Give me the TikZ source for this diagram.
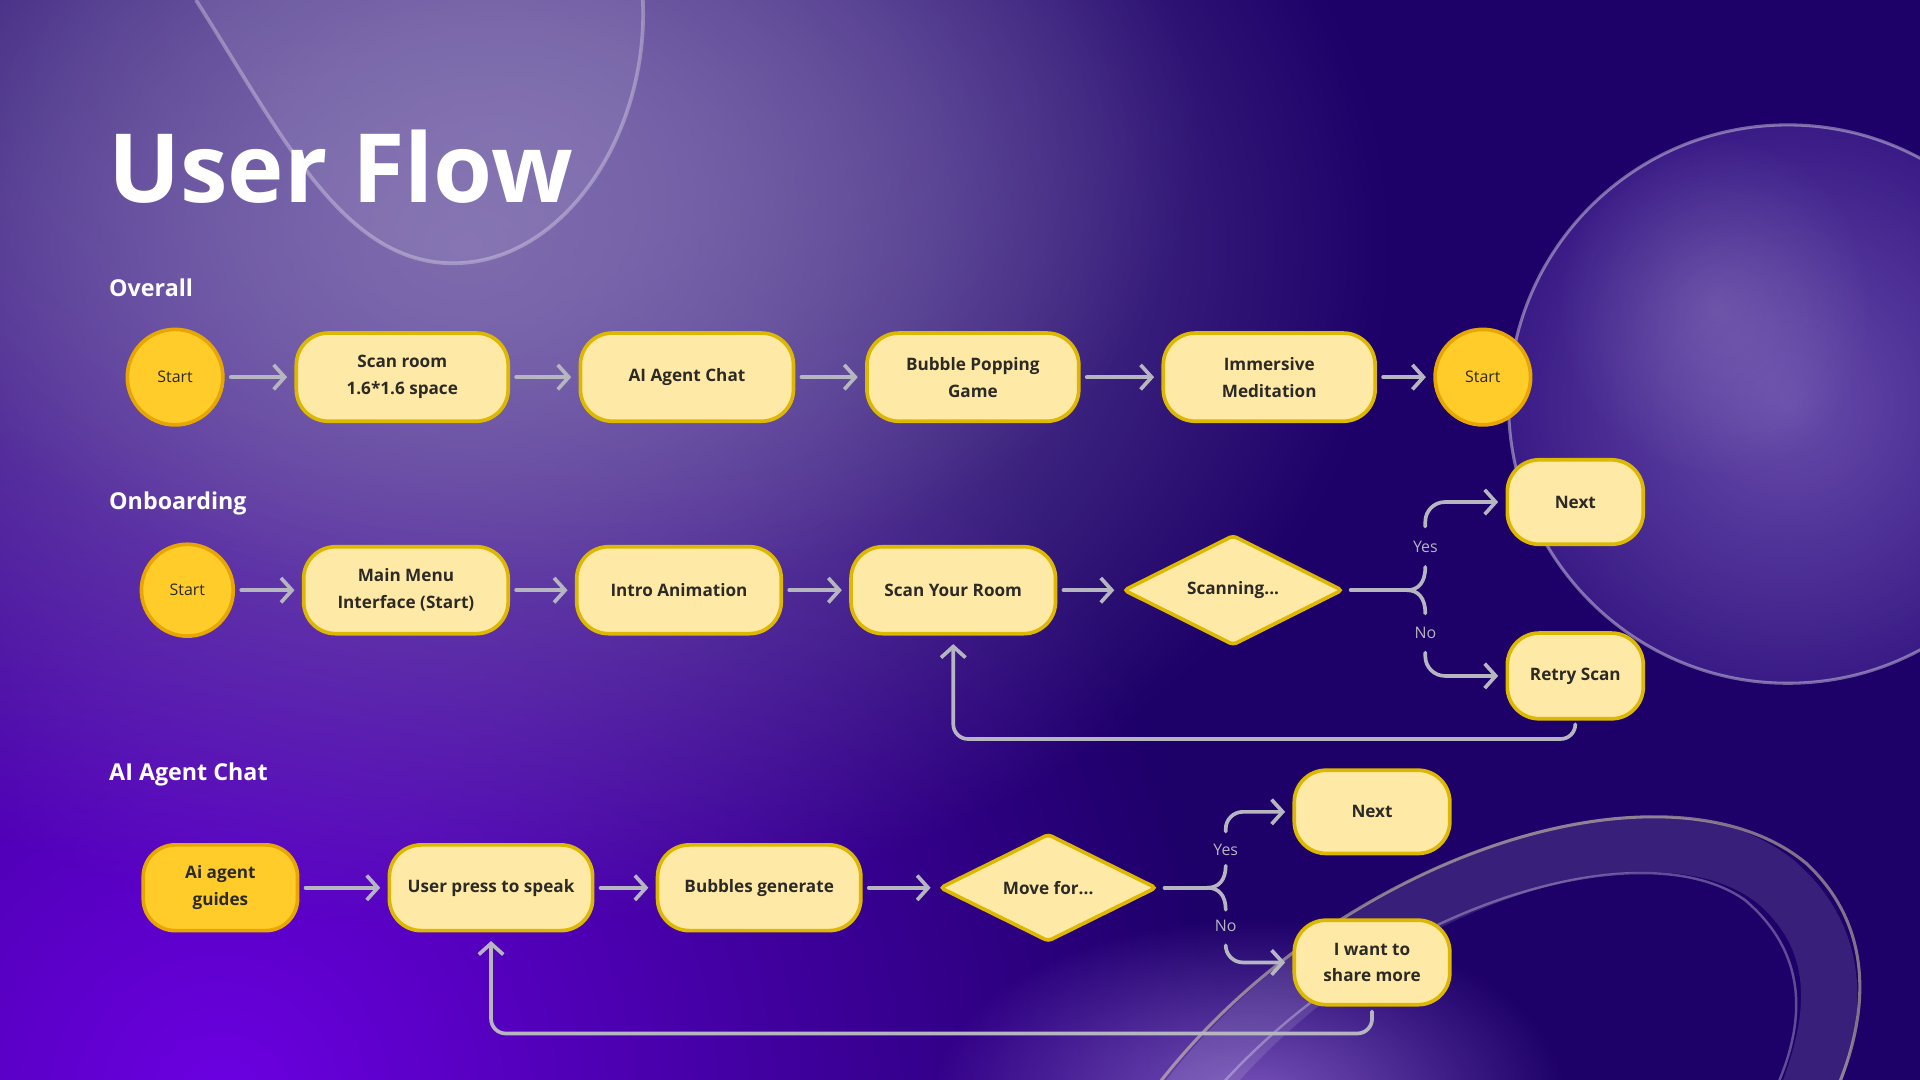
\documentclass[tikz,border=0pt]{standalone}
\usepackage{fontspec}
\setmainfont{Open Sans}
\usetikzlibrary{shapes.geometric,arrows.meta,fadings}
\definecolor{bgdark}{HTML}{1D0068}
\definecolor{bgviolet}{HTML}{6C00E2}
\definecolor{lav}{HTML}{7E6CAE}
\definecolor{boxfill}{HTML}{FFE9A6}
\definecolor{boxline}{HTML}{DDB800}
\definecolor{gold}{HTML}{FFCC2A}
\definecolor{goldline}{HTML}{E8A600}
\definecolor{ink}{HTML}{2B2A26}
\definecolor{flowgray}{HTML}{B6B6C0}
\definecolor{sphere}{HTML}{6A48B8}
\definecolor{ringglow}{HTML}{A078E0}
\tikzfading[name=glowfade, inner color=transparent!0, outer color=transparent!100]
\begin{document}
\begin{tikzpicture}[x=1pt,y=-1pt,
  box/.style={draw=boxline, fill=boxfill, line width=3pt, rounded corners=26pt,
    minimum height=72pt, align=center, text=ink, inner sep=0pt,
    font=\bfseries\fontsize{14}{22}\selectfont},
  goldbox/.style={box, fill=gold, draw=goldline},
  startc/.style={circle, draw=goldline, fill=gold, line width=3pt, minimum size=78pt,
    inner sep=0pt, text=ink, font=\fontsize{13}{15}\selectfont},
  decision/.style={diamond, draw=boxline, fill=boxfill, line width=3pt, aspect=2,
    minimum width=179pt, minimum height=90pt, inner sep=0pt, rounded corners=3pt,
    text=ink, font=\bfseries\fontsize{14}{22}\selectfont},
  flowline/.style={draw=flowgray, line width=3pt, line cap=round},
  flow/.style={flowline, -{Straight Barb[length=9pt, width=20pt, line width=3pt]}},
  section/.style={anchor=base west, text=white, font=\bfseries\fontsize{19}{22}\selectfont},
  answer/.style={text=flowgray, font=\fontsize{13}{15}\selectfont, inner sep=1pt}
]
% ---------- background ----------
\useasboundingbox (0,0) rectangle (1568,882);
\fill[bgdark] (0,0) rectangle (1568,882);
\begin{scope}
\clip (0,0) rectangle (1568,882);
\shade[inner color=bgviolet, outer color=bgdark] (180,900) circle (820pt);
\fill[lav, path fading=glowfade] (380,200) ellipse [x radius=760pt, y radius=560pt];
\fill[lav, path fading=glowfade, opacity=0.8] (420,120) ellipse [x radius=560pt, y radius=380pt];
\fill[ringglow, path fading=glowfade, opacity=0.7] (1020,900) ellipse [x radius=260pt, y radius=150pt];
% top bubble
\fill[white, opacity=0.07] (160,0) .. controls (230,110) and (280,215) .. (370,215)
  .. controls (460,215) and (530,110) .. (525,0) -- cycle;
\draw[white, opacity=0.3, line width=3pt] (160,0) .. controls (230,110) and (280,215) .. (370,215)
  .. controls (460,215) and (530,110) .. (525,0);
% right sphere
\shade[inner color=sphere!80!white, outer color=sphere!55!bgdark, opacity=0.7] (1460,330) circle (228pt);
\fill[white, path fading=glowfade, opacity=0.15] (1400,250) ellipse [x radius=130pt, y radius=140pt];
\draw[white, opacity=0.4, line width=2.5pt] (1460,330) circle (228pt);
% bottom ring
\draw[white, opacity=0.12, line width=46pt] (960,910) .. controls (1100,720) and (1350,640) .. (1450,720)
  .. controls (1520,780) and (1490,860) .. (1470,910);
\draw[white!70!yellow, opacity=0.45, line width=2.5pt] (935,900) .. controls (1080,700) and (1360,610) .. (1475,705)
  .. controls (1545,770) and (1515,860) .. (1495,900);
\draw[white, opacity=0.3, line width=2pt] (985,900) .. controls (1120,740) and (1340,675) .. (1425,735)
  .. controls (1490,790) and (1465,860) .. (1445,900);
\end{scope}
% ---------- titles ----------
\node[anchor=base west, text=white, font=\bfseries\fontsize{78}{80}\selectfont, inner sep=0pt] (title) at (88,165) {User Flow};
\node[section, inner sep=0pt] (s1) at (89,242) {Overall};
\node[section, inner sep=0pt] (s2) at (89,416) {Onboarding};
\node[section, inner sep=0pt] (s3) at (89,637) {AI Agent Chat};
% ---------- row 1 ----------
\node[startc] (o1) at (143,308) {Start};
\node[box, minimum width=173pt] (o2) at (328.5,308) {Scan room\\1.6*1.6 space};
\node[box, minimum width=174pt] (o3) at (561,308) {AI Agent Chat};
\node[box, minimum width=173pt] (o4) at (794.5,308) {Bubble Popping\\Game};
\node[box, minimum width=173pt] (o5) at (1036.5,308) {Immersive\\Meditation};
\node[startc] (o6) at (1211,308) {Start};
\foreach \a/\b in {o1/o2,o2/o3,o3/o4,o4/o5,o5/o6}
  \draw[flow, shorten <=5pt, shorten >=6pt] (\a) -- (\b);
% ---------- row 2 ----------
\node[startc, minimum size=75pt] (b1) at (153,482) {Start};
\node[box, minimum width=167pt, minimum height=71pt] (b2) at (331.5,482) {Main Menu\\Interface (Start)};
\node[box, minimum width=167pt, minimum height=71pt] (b3) at (554.5,482) {Intro Animation};
\node[box, minimum width=167pt, minimum height=71pt] (b4) at (778.5,482) {Scan Your Room};
\node[decision] (b5) at (1007,482) {Scanning...};
\node[box, minimum width=111pt, minimum height=69pt] (b6) at (1286.5,410) {Next};
\node[box, minimum width=111pt, minimum height=70pt] (b7) at (1286.5,552) {Retry Scan};
\foreach \a/\b in {b1/b2,b2/b3,b3/b4,b4/b5}
  \draw[flow, shorten <=5pt, shorten >=6pt] (\a) -- (\b);
\coordinate (bf) at (1149,482);
\coordinate (byes) at (1164,430);
\coordinate (bno) at (1164,533);
\draw[flowline, shorten <=5pt] (b5.east) -- (bf);
\draw[flowline] (bf) .. controls (1158,482) and (1164,476) .. (1164,463);
\draw[flowline] (bf) .. controls (1158,482) and (1164,488) .. (1164,501);
\node[answer] (byl) at (1164,447) {Yes};
\node[answer] (bnl) at (1164,517) {No};
\draw[flow, rounded corners=16pt, shorten >=6pt] (byes) |- (b6.west);
\draw[flow, rounded corners=16pt, shorten >=6pt] (bno) |- (b7.west);
\draw[flow, rounded corners=12pt, shorten <=3pt, shorten >=7pt] (b7.south) -- ++(0,15) -| (b4.south);
% ---------- row 3 ----------
\node[goldbox, minimum width=126pt, minimum height=70pt] (c1) at (180,725) {Ai agent\\guides};
\node[box, minimum width=166pt, minimum height=70pt] (c2) at (401,725) {User press to speak};
\node[box, minimum width=166pt, minimum height=70pt] (c3) at (620,725) {Bubbles generate};
\node[decision, minimum width=177pt, minimum height=88pt] (c4) at (856,725) {Move for...};
\node[box, minimum width=127pt, minimum height=68pt] (c5) at (1120.5,663) {Next};
\node[box, minimum width=127pt, minimum height=69pt] (c6) at (1120.5,786) {I want to\\share more};
\foreach \a/\b in {c1/c2,c2/c3,c3/c4}
  \draw[flow, shorten <=5pt, shorten >=6pt] (\a) -- (\b);
\coordinate (cf) at (986,725);
\coordinate (cyes) at (1001,679);
\coordinate (cno) at (1001,772);
\draw[flowline, shorten <=5pt] (c4.east) -- (cf);
\draw[flowline] (cf) .. controls (995,725) and (1001,719) .. (1001,707);
\draw[flowline] (cf) .. controls (995,725) and (1001,731) .. (1001,743);
\node[answer] (cyl) at (1001,694) {Yes};
\node[answer] (cnl) at (1001,756) {No};
\draw[flow, rounded corners=14pt, shorten >=6pt] (cyes) |- (c5.west);
\draw[flow, rounded corners=14pt, shorten >=6pt] (cno) |- (c6.west);
\draw[flow, rounded corners=12pt, shorten <=4pt, shorten >=7pt] (c6.south) -- ++(0,22) -| (c2.south);
\end{tikzpicture}
\end{document}
